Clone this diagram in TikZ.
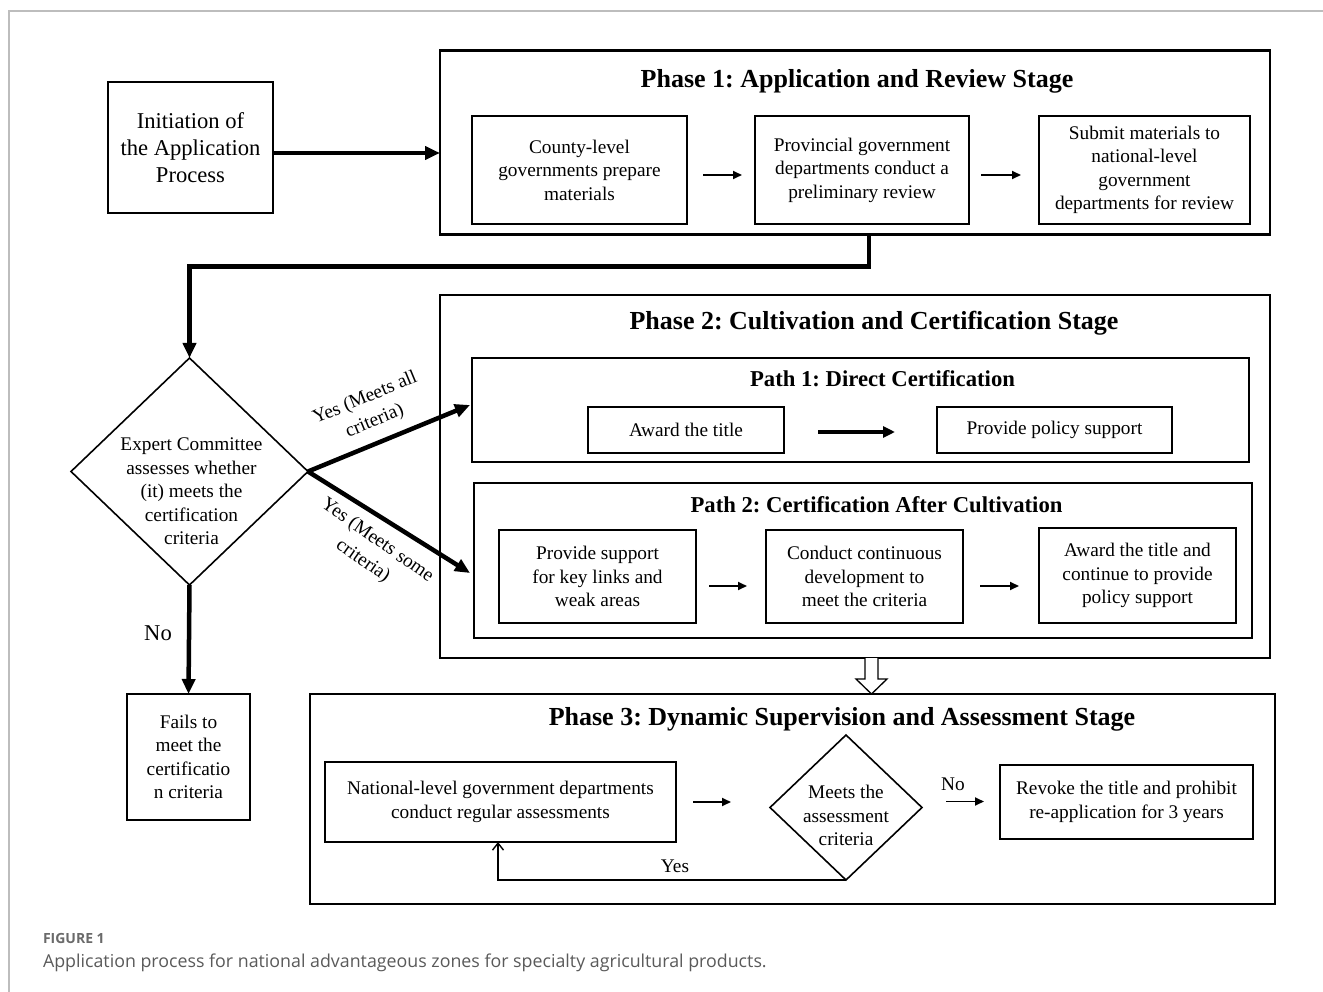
\documentclass[tikz,border=0pt]{standalone}
\usepackage{fontspec}
\setmainfont{Liberation Serif}
\newfontfamily\capfont{Open Sans}
\usetikzlibrary{arrows.meta,shapes.geometric,calc}
\definecolor{framegray}{HTML}{BDBDBD}
\definecolor{capgray}{HTML}{5A5A5A}
\definecolor{figgray}{HTML}{6A6A6A}
\frenchspacing
\begin{document}
\begin{tikzpicture}[x=1pt,y=-1pt,
  every node/.style={inner sep=0pt, outer sep=0pt},
  body/.style={font=\fontsize{19.3}{23.5}\selectfont, align=center},
  stdbox/.style={draw, line width=1.6pt, body},
  phasebox/.style={draw, line width=2.6pt},
  pathbox/.style={draw, line width=2pt},
  ttl/.style={font=\bfseries\fontsize{26}{30}\selectfont, anchor=base},
  pttl/.style={font=\bfseries\fontsize{22.7}{26}\selectfont, anchor=base},
  tarrow/.style={line width=4.5pt, -{Triangle[length=15pt,width=13pt]}},
  sarrow/.style={line width=1.8pt, -{Triangle[length=9pt,width=8pt]}},
  marrow/.style={line width=3.2pt, -{Triangle[length=12pt,width=11pt]}},
  yarrow/.style={line width=1.4pt, -{Straight Barb[length=7pt,width=11pt]}},
  lbl/.style={font=\fontsize{19.3}{25}\selectfont, align=center},
  dia/.style={draw, diamond, line width=1.6pt},
]
\fill[white] (0,0) rectangle (1323,992);
\useasboundingbox (0,0) rectangle (1323,992);
\draw[framegray, line width=1.5pt] (1323,11) -- (9,11) -- (9,992);

% Start
\node[stdbox, minimum width=165pt, minimum height=131pt, font=\fontsize{22.6}{27.3}\selectfont] (init) at (190.5,147.5) {Initiation of\\the Application\\Process};

% Phase 1
\node[phasebox, minimum width=830pt, minimum height=184pt] (p1) at (855,142.5) {};
\node[ttl] (p1t) at (857,88) {Phase 1: Application and Review Stage};
\node[stdbox, minimum width=215pt, minimum height=108pt] (county) at (579.5,170) {County-level\\governments prepare\\materials};
\node[stdbox, minimum width=214pt, minimum height=108pt] (prov) at (862,170) {Provincial government\\departments conduct a\\preliminary review};
\node[stdbox, minimum width=211pt, minimum height=108pt] (submit) at (1144.5,170) {Submit materials to\\national-level\\government\\departments for review};

% Phase 2
\node[phasebox, minimum width=830pt, minimum height=363pt] (p2) at (855,476.5) {};
\node[ttl] (p2t) at (874,330) {Phase 2: Cultivation and Certification Stage};
\node[pathbox, minimum width=777pt, minimum height=104pt] (pa1) at (860.5,410) {};
\node[pttl] (pa1t) at (882.5,386) {Path 1: Direct Certification};
\node[stdbox, minimum width=196pt, minimum height=46pt] (aw1) at (686,430) {Award the title};
\node[stdbox, minimum width=235pt, minimum height=46pt] (policy) at (1054.5,430) {Provide policy support};
\node[pathbox, minimum width=778pt, minimum height=155pt] (pa2) at (863,560.5) {};
\node[pttl] (pa2t) at (876.5,512) {Path 2: Certification After Cultivation};
\node[stdbox, minimum width=197pt, minimum height=93pt] (psup) at (597.5,576.5) {Provide support\\for key links and\\weak areas};
\node[stdbox, minimum width=197pt, minimum height=93pt] (conduct) at (864.5,576.5) {Conduct continuous\\development to\\meet the criteria};
\node[stdbox, minimum width=197pt, minimum height=95pt] (aw2) at (1137.5,575.5) {Award the title and\\continue to provide\\policy support};

% Phase 3
\node[phasebox, minimum width=965pt, minimum height=210pt] (p3) at (792.5,799) {};
\node[ttl] (p3t) at (842,725) {Phase 3: Dynamic Supervision and Assessment Stage};
\node[stdbox, minimum width=351pt, minimum height=80pt] (nat) at (500.5,802) {National-level government departments\\conduct regular assessments};
\node[dia, minimum width=152pt, minimum height=145pt] (d2) at (846,807.5) {};
\node[body] (d2t) at ([yshift=-8pt]d2.center) {Meets the\\assessment\\criteria};
\node[stdbox, minimum width=253pt, minimum height=74pt] (revoke) at (1126.5,802) {Revoke the title and prohibit\\re-application for 3 years};

% Decision
\node[dia, minimum width=237pt, minimum height=227pt] (d1) at (189.5,471.5) {};
\node[body] (d1t) at ([xshift=2pt,yshift=-20pt]d1.center) {Expert Committee\\assesses whether\\(it) meets the\\certification\\criteria};
\node[stdbox, minimum width=123pt, minimum height=126pt] (fails) at (188.5,757) {Fails to\\meet the\\certificatio\\n criteria};

% Connectors
\coordinate (ia) at ([yshift=-5.5pt]init.east);
\draw[tarrow] (ia) -- (ia -| p1.west);
\draw[tarrow] ([xshift=14pt]p1.south) -- ++(0,32) -| (d1.north);
\draw[tarrow] (d1.east) -- ([xshift=-2pt,yshift=5pt]pa1.west);
\draw[tarrow] (d1.east) -- ([xshift=-4pt,yshift=-12.5pt]pa2.west);
\draw[tarrow] (d1.south) -- (fails.north);
\node[lbl, rotate=22.5] (yes1) at (370,410) {Yes (Meets all\\criteria)};
\node[lbl, rotate=-35] (yes2) at (370,551) {Yes (Meets some\\criteria)};
\node[font=\fontsize{22.6}{27}\selectfont] (no1) at (158,633) {No};

\draw[sarrow, shorten <=16pt, shorten >=13pt] ([yshift=-5pt]county.east) -- ([yshift=-5pt]prov.west);
\draw[sarrow, shorten <=12pt, shorten >=18pt] ([yshift=-5pt]prov.east) -- ([yshift=-5pt]submit.west);
\draw[marrow, shorten <=34pt, shorten >=42pt] ([yshift=-2pt]aw1.east) -- ([yshift=-2pt]policy.west);
\draw[sarrow, shorten <=13pt, shorten >=19pt] ([yshift=-9.5pt]psup.east) -- ([yshift=-9.5pt]conduct.west);
\draw[sarrow, shorten <=17pt, shorten >=20pt] ([yshift=-9.5pt]conduct.east) -- ([yshift=-10.5pt]aw2.west);

% hollow arrow
\coordinate (hs) at ([xshift=16.5pt]p2.south);
\filldraw[fill=white, line width=1.3pt, line join=miter]
  ($(hs)+(-6.5,0)$) -- ($(hs)+(-6.5,21)$) -- ($(hs)+(-15.5,21)$) -- (hs |- p3.north)
  -- ($(hs)+(15.5,21)$) -- ($(hs)+(6.5,21)$) -- ($(hs)+(6.5,0)$);

\draw[sarrow, shorten <=17pt, shorten >=39pt] (nat.east) -- (nat.east -| d2.west);
\coordinate (dn) at ([yshift=6pt]d2.east);
\draw[sarrow, shorten <=24pt, shorten >=16pt] (dn) -- (dn -| revoke.west);
\node[lbl] (no2) at (953,784) {No};
\draw[yarrow] (d2.south) -| ([xshift=-2.5pt]nat.south);
\node[lbl] (yes3) at (675,866) {Yes};

% Caption
\node[anchor=base west, font=\capfont\bfseries\fontsize{14}{16}\selectfont, text=figgray] (fig) at (43,943) {FIGURE 1};
\node[anchor=base west, font=\capfont\fontsize{17.8}{21}\selectfont, text=capgray] (cap) at (43,967) {Application process for national advantageous zones for specialty agricultural products.};
\end{tikzpicture}
\end{document}
